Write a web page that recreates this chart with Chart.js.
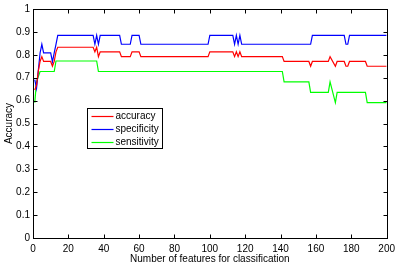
<!DOCTYPE html>
<html>
<head>
<meta charset="utf-8">
<script src="https://cdn.jsdelivr.net/npm/chart.js@4/dist/chart.umd.min.js"></script>
<style>
    body { margin: 0; background: #fff; }
    canvas { display: block; }
</style>
</head>
<body>
<canvas id="myChart" width="400" height="265"></canvas>
<script>
// values (number of features -> score)
const accX = [1, 2, 3, 4, 5, 6, 10, 11, 12, 13, 14, 34, 35, 36, 37, 38, 49, 50, 55, 56, 60, 61, 99, 100, 113, 114, 115, 116, 117, 118, 141, 142, 156, 157, 158, 167, 168, 171, 172, 176, 177, 178, 179, 188, 189, 200]
const accY = [0.646, 0.667, 0.729, 0.771, 0.792, 0.771, 0.771, 0.75, 0.771, 0.813, 0.833, 0.833, 0.813, 0.833, 0.792, 0.813, 0.813, 0.792, 0.792, 0.813, 0.813, 0.792, 0.792, 0.813, 0.813, 0.792, 0.813, 0.792, 0.813, 0.792, 0.792, 0.771, 0.771, 0.75, 0.771, 0.771, 0.792, 0.75, 0.771, 0.771, 0.75, 0.75, 0.771, 0.771, 0.75, 0.75]

const specX = [1, 2, 3, 4, 5, 6, 10, 11, 12, 13, 14, 34, 35, 36, 37, 38, 49, 50, 55, 56, 60, 61, 99, 100, 113, 114, 115, 116, 117, 118, 157, 158, 176, 177, 178, 179, 200]
const specY = [0.692, 0.654, 0.731, 0.808, 0.846, 0.808, 0.808, 0.769, 0.808, 0.846, 0.885, 0.885, 0.846, 0.885, 0.846, 0.885, 0.885, 0.846, 0.846, 0.885, 0.885, 0.846, 0.846, 0.885, 0.885, 0.846, 0.885, 0.846, 0.885, 0.846, 0.846, 0.885, 0.885, 0.846, 0.846, 0.885, 0.885]

const sensX = [1, 2, 4, 12, 13, 36, 37, 141, 142, 156, 157, 167, 168, 171, 172, 188, 189, 200]
const sensY = [0.591, 0.682, 0.727, 0.727, 0.773, 0.773, 0.727, 0.727, 0.682, 0.682, 0.636, 0.636, 0.682, 0.591, 0.636, 0.636, 0.591, 0.591]

const seriesNames = ['accuracy', 'specificity', 'sensitivity']
const seriesColors = ['#ff0000', '#0000ff', '#00ff00']

const xTicks = [0, 20, 40, 60, 80, 100, 120, 140, 160, 180, 200]
const xTickLabels = ['0', '20', '40', '60', '80', '100', '120', '140', '160', '180', '200']
const yTicks = [0, 0.1, 0.2, 0.3, 0.4, 0.5, 0.6, 0.7, 0.8, 0.9, 1]
const yTickLabels = ['0', '0.1', '0.2', '0.3', '0.4', '0.5', '0.6', '0.7', '0.8', '0.9', '1']

const xTitle = 'Number of features for classification'
const yTitle = 'Accuracy'

const fontFamily = '"Liberation Sans", Arial, sans-serif'
const ctx = document.getElementById('myChart')

const toPoints = (xs, ys) => xs.map((x, i) => ({ x: x, y: ys[i] }))

// box round the plot, inward ticks on all four sides, and the legend box
const matlabFrame = {
    id: 'matlabFrame',
    afterDatasetsDraw(chart) {
        const c = chart.ctx
        const a = chart.chartArea
        const xs = chart.scales.x
        const ys = chart.scales.y
        const tick = 4
        c.save()
        c.strokeStyle = '#000'
        c.lineWidth = 1
        const L = Math.round(a.left) + 0.5
        const R = Math.round(a.right) + 0.5
        const T = Math.round(a.top) + 0.5
        const B = Math.round(a.bottom) + 0.5
        c.strokeRect(L, T, R - L, B - T)
        c.beginPath()
        xTicks.forEach((v) => {
            const px = Math.round(xs.getPixelForValue(v)) + 0.5
            c.moveTo(px, B); c.lineTo(px, B - tick)
            c.moveTo(px, T); c.lineTo(px, T + tick)
        })
        yTicks.forEach((v) => {
            const py = Math.round(ys.getPixelForValue(v)) + 0.5
            c.moveTo(L, py); c.lineTo(L + tick, py)
            c.moveTo(R, py); c.lineTo(R - tick, py)
        })
        c.stroke()

        // legend
        const bx = L + 54
        const by = T + 99
        c.fillStyle = '#fff'
        c.fillRect(bx, by, 75, 40)
        c.strokeRect(bx, by, 75, 40)
        c.font = '10px ' + fontFamily
        c.textBaseline = 'middle'
        chart.data.datasets.forEach((ds, i) => {
            const ry = Math.round(by + 7 + i * 13.3) + 0.5
            c.strokeStyle = ds.borderColor
            c.lineWidth = 1.2
            c.beginPath()
            c.moveTo(bx + 4, ry)
            c.lineTo(bx + 26, ry)
            c.stroke()
            c.fillStyle = '#000'
            c.fillText(ds.label, bx + 28, ry)
        })
        c.restore()
    }
}

const datasets = [toPoints(accX, accY), toPoints(specX, specY), toPoints(sensX, sensY)].map((pts, i) => ({
    label: seriesNames[i],
    data: pts,
    borderColor: seriesColors[i],
    backgroundColor: seriesColors[i],
    borderWidth: 1.2,
    pointRadius: 0,
    tension: 0,
    fill: false,
}))

const config = {
    type: 'line',
    data: { datasets: datasets },
    options: {
        responsive: false,
        animation: false,
        devicePixelRatio: 1,
        layout: { padding: { top: 5, right: 10, left: 0, bottom: 0 }, autoPadding: false },
        plugins: { legend: { display: false }, tooltip: { enabled: false } },
        scales: {
            x: {
                type: 'linear',
                min: 0,
                max: 200,
                afterBuildTicks: (scale) => { scale.ticks = xTicks.map((v) => ({ value: v })) },
                afterFit: (scale) => { scale.height = 27 },
                ticks: {
                    callback: (value, index) => xTickLabels[index],
                    font: { family: fontFamily, size: 10 },
                    color: '#000',
                    maxRotation: 0,
                    autoSkip: false,
                    padding: 5,
                },
                grid: { display: false, drawTicks: false },
                border: { display: false },
                title: {
                    display: true,
                    text: xTitle,
                    font: { family: fontFamily, size: 10 },
                    color: '#000',
                    padding: { top: 0, bottom: 0 },
                },
            },
            y: {
                type: 'linear',
                min: 0,
                max: 1,
                afterBuildTicks: (scale) => { scale.ticks = yTicks.map((v) => ({ value: v })) },
                afterFit: (scale) => { scale.width = 33 },
                ticks: {
                    callback: (value, index) => yTickLabels[index],
                    font: { family: fontFamily, size: 10 },
                    color: '#000',
                    autoSkip: false,
                    padding: 3,
                },
                grid: { display: false, drawTicks: false },
                border: { display: false },
                title: {
                    display: true,
                    text: yTitle,
                    font: { family: fontFamily, size: 10 },
                    color: '#000',
                    padding: { top: 3, bottom: 0 },
                },
            },
        },
    },
    plugins: [matlabFrame],
}

const myChart = new Chart(ctx, config)
</script>
</body>
</html>
